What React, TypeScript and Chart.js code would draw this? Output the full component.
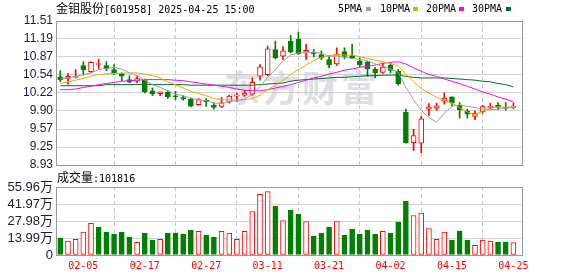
import React, { useEffect, useRef } from 'react';
import { Chart, registerables } from 'chart.js';

Chart.register(...registerables);

// ---------- data ----------
const dateTickIndex = [3, 11, 19, 27, 35, 43, 51, 59];
const dateLabels = ['02-05', '02-17', '02-27', '03-11', '03-21', '04-02', '04-15', '04-25'];

const priceTicks = [8.93, 9.2525, 9.575, 9.8975, 10.22, 10.5425, 10.865, 11.1875, 11.51];
const priceTickLabels = ['8.93', '9.25', '9.57', '9.90', '10.22', '10.54', '10.87', '11.19', '11.51'];

const volTicks = [0, 13.99, 27.98, 41.97, 55.96];
const volTickLabels = ['0', '13.99万', '27.98万', '41.97万', '55.96万'];

const opens = [10.51, 10.48, 10.5, 10.71, 10.6, 10.73, 10.71, 10.64, 10.57, 10.46,
  10.43, 10.45, 10.26, 10.21, 10.23, 10.17, 10.14, 10.11, 10.01, 10.09,
  10.0, 9.98, 10.06, 10.165, 10.18, 10.2, 10.52, 10.55, 11.0, 10.88,
  11.15, 11.18, 10.95, 10.95, 10.91, 10.82, 10.74, 10.96, 10.89, 10.79,
  10.77, 10.65, 10.59, 10.715, 10.61, 9.88, 9.33, 9.32, 9.93, 9.95,
  10.08, 10.15, 10.0, 9.895, 9.8, 9.88, 9.96, 10.0, 9.96, 9.96];
const highs = [10.62, 10.57, 10.64, 10.78, 10.78, 10.82, 10.78, 10.73, 10.58, 10.53,
  10.52, 10.47, 10.31, 10.24, 10.26, 10.25, 10.17, 10.13, 10.12, 10.12,
  10.05, 10.14, 10.18, 10.22, 10.27, 10.49, 10.73, 11.06, 11.15, 11.05,
  11.25, 11.31, 11.09, 11.0, 10.975, 10.88, 11.03, 11.03, 11.09, 10.85,
  10.79, 10.68, 10.76, 10.76, 10.64, 9.93, 9.57, 9.8, 10.03, 10.04,
  10.22, 10.15, 10.05, 9.93, 9.9, 10.0, 10.04, 10.05, 10.05, 10.04];
const lows = [10.42, 10.38, 10.49, 10.54, 10.58, 10.66, 10.62, 10.55, 10.44, 10.4,
  10.4, 10.22, 10.17, 10.17, 10.12, 10.1, 10.09, 9.97, 10.0, 9.98,
  9.93, 9.96, 10.04, 10.07, 10.16, 10.18, 10.45, 10.53, 10.83, 10.82,
  10.94, 10.91, 10.82, 10.865, 10.82, 10.67, 10.715, 10.83, 10.83, 10.69,
  10.52, 10.49, 10.57, 10.58, 10.36, 9.32, 9.19, 9.15, 9.82, 9.91,
  10.02, 9.99, 9.77, 9.77, 9.74, 9.86, 9.93, 9.92, 9.91, 9.94];
const closes = [10.46, 10.52, 10.51, 10.64, 10.77, 10.74, 10.655, 10.585, 10.52, 10.42,
  10.48, 10.24, 10.21, 10.24, 10.15, 10.15, 10.11, 9.985, 10.1, 10.06,
  9.96, 10.045, 10.165, 10.175, 10.22, 10.41, 10.69, 11.01, 10.85, 10.975,
  10.956, 10.926, 10.985, 10.925, 10.848, 10.728, 10.908, 10.877, 10.84, 10.728,
  10.65, 10.58, 10.686, 10.625, 10.386, 9.33, 9.457, 9.757, 9.973, 9.99,
  10.13, 10.04, 9.92, 9.84, 9.86, 9.978, 9.98, 9.966, 9.942, 9.98];

const ma5 = [10.47, 10.49, 10.52, 10.55, 10.58, 10.64, 10.66, 10.68, 10.65, 10.58,
  10.53, 10.45, 10.37, 10.32, 10.26, 10.2, 10.17, 10.13, 10.1, 10.08,
  10.04, 10.03, 10.07, 10.08, 10.11, 10.2, 10.33, 10.5, 10.64, 10.79,
  10.9, 10.94, 10.94, 10.95, 10.93, 10.88, 10.88, 10.86, 10.84, 10.82,
  10.8, 10.74, 10.7, 10.65, 10.59, 10.32, 10.1, 9.91, 9.78, 9.7,
  9.86, 9.98, 10.01, 9.98, 9.96, 9.93, 9.92, 9.93, 9.95, 9.97];
const ma10 = [10.39, 10.42, 10.45, 10.48, 10.52, 10.55, 10.565, 10.57, 10.575, 10.58,
  10.58, 10.56, 10.53, 10.49, 10.42, 10.37, 10.31, 10.25, 10.21, 10.17,
  10.12, 10.1, 10.1, 10.09, 10.1, 10.12, 10.18, 10.28, 10.36, 10.45,
  10.55, 10.64, 10.72, 10.8, 10.86, 10.89, 10.91, 10.9, 10.9, 10.87,
  10.84, 10.81, 10.78, 10.75, 10.7, 10.56, 10.42, 10.3, 10.22, 10.14,
  10.09, 10.04, 9.96, 9.88, 9.83, 9.9, 9.95, 9.97, 9.97, 9.96];
const ma20 = [10.28, 10.28, 10.29, 10.32, 10.34, 10.37, 10.39, 10.41, 10.43, 10.44,
  10.45, 10.46, 10.46, 10.46, 10.46, 10.45, 10.44, 10.42, 10.4, 10.38,
  10.36, 10.34, 10.32, 10.29, 10.27, 10.26, 10.26, 10.28, 10.31, 10.34,
  10.37, 10.41, 10.45, 10.49, 10.52, 10.56, 10.59, 10.63, 10.65, 10.68,
  10.7, 10.72, 10.75, 10.77, 10.78, 10.74, 10.67, 10.61, 10.55, 10.52,
  10.47, 10.43, 10.39, 10.34, 10.29, 10.24, 10.2, 10.15, 10.11, 10.06];
const ma30 = [10.35, 10.35, 10.35, 10.35, 10.35, 10.35, 10.37, 10.37, 10.37, 10.37,
  10.37, 10.38, 10.37, 10.37, 10.37, 10.37, 10.37, 10.36, 10.36, 10.36,
  10.36, 10.36, 10.36, 10.36, 10.36, 10.36, 10.37, 10.38, 10.39, 10.4,
  10.43, 10.45, 10.46, 10.47, 10.48, 10.49, 10.5, 10.5, 10.51, 10.52,
  10.53, 10.53, 10.54, 10.54, 10.54, 10.52, 10.5, 10.49, 10.49, 10.49,
  10.49, 10.48, 10.47, 10.46, 10.45, 10.43, 10.42, 10.39, 10.37, 10.33];

// volume in 万
const volumes = [13.9, 11.5, 12.9, 18.8, 26.0, 22.7, 18.8, 17.2, 18.8, 14.7,
  10.4, 18.0, 12.3, 12.9, 18.0, 18.0, 17.2, 20.5, 19.4, 16.1,
  14.7, 19.4, 18.0, 12.9, 19.4, 35.8, 50.0, 52.2, 40.1, 28.4,
  36.9, 33.6, 27.6, 15.6, 18.0, 22.9, 27.6, 16.1, 21.3, 17.2,
  20.5, 17.2, 19.4, 18.0, 27.0, 44.2, 32.5, 34.4, 21.8, 12.9,
  18.8, 12.3, 19.7, 12.3, 7.9, 12.3, 11.5, 10.6, 10.6, 10.1816];
const volUp = [0, 1, 1, 1, 1, 0, 0, 0, 0, 0,
  1, 0, 0, 1, 0, 0, 0, 0, 1, 0,
  0, 1, 1, 1, 1, 1, 1, 1, 0, 1,
  0, 0, 1, 0, 0, 0, 1, 0, 0, 0,
  0, 0, 1, 0, 0, 0, 1, 1, 1, 1,
  1, 0, 0, 0, 1, 1, 1, 0, 0, 1];

// ---------- styles ----------
const RED = '#ff0000';
const GREEN = '#008000';
const MA_COLORS = ['#a0a0a0', '#f5a300', '#ff00ff', '#006b2d'];
const X_MIN = -0.56;
const X_MAX = 60.12;
const MONO = '"DejaVu Sans Mono", monospace';
const CJK = '"Noto Sans CJK SC", sans-serif';

const boxPlugin = {
  id: 'box',
  afterDraw(chart: any) {
    const { ctx, chartArea: a } = chart;
    ctx.save();
    ctx.strokeStyle = '#999999';
    ctx.lineWidth = 1;
    ctx.strokeRect(Math.round(a.left) + 0.5, Math.round(a.top) + 0.5,
      Math.round(a.right - a.left), Math.round(a.bottom - a.top));
    ctx.restore();
  },
};

const watermarkPlugin = {
  id: 'watermark',
  beforeDatasetsDraw(chart: any) {
    const { ctx } = chart;
    ctx.save();
    ctx.fillStyle = 'rgba(200,200,212,0.6)';
    ctx.font = 'bold 36px "Noto Sans CJK SC"';
    ctx.textBaseline = 'middle';
    try { (ctx as any).letterSpacing = '3px'; } catch (e) { /* ignore */ }
    ctx.fillText('东方财富', 224, 88);
    ctx.restore();
  },
};

export default function App() {
  const mainRef = useRef<HTMLCanvasElement>(null);
  const volRef = useRef<HTMLCanvasElement>(null);

  useEffect(() => {
    Chart.defaults.font.family = '"Liberation Sans", "Noto Sans CJK SC", sans-serif';
    const idx = opens.map((_, i) => i);
    const up = idx.map((i) => closes[i] >= opens[i]);
    const cColor = up.map((u) => (u ? RED : GREEN));
    const cFill = up.map((u) => (u ? '#ffffff' : GREEN));

    const maSets = [ma5, ma10, ma20, ma30].map((arr, k) => ({
      type: 'line' as const,
      label: ['5PMA', '10PMA', '20PMA', '30PMA'][k],
      data: arr.map((v, i) => ({ x: i, y: v })),
      borderColor: MA_COLORS[k],
      borderWidth: 1,
      pointRadius: 0,
      tension: 0,
      order: k,
    }));

    const xGrid = {
      type: 'linear' as const,
      min: X_MIN,
      max: X_MAX,
      offset: false,
      afterBuildTicks: (s: any) => { s.ticks = dateTickIndex.map((v) => ({ value: v })); },
      grid: { color: '#c8c8c8', drawTicks: false, lineWidth: 1 },
      border: { display: false, dash: [4, 3] },
    };

    const main = new Chart(mainRef.current as HTMLCanvasElement, {
      type: 'bar',
      data: {
        datasets: [
          ...maSets,
          {
            type: 'bar',
            data: idx.map((i) => ({ x: i, y: [opens[i], closes[i]] })),
            backgroundColor: cFill,
            borderColor: cColor,
            borderWidth: 1,
            borderSkipped: false,
            barThickness: 5,
            minBarLength: 1,
            grouped: false,
            order: 10,
          } as any,
          {
            type: 'bar',
            data: idx.map((i) => ({ x: i, y: [lows[i], highs[i]] })),
            backgroundColor: cColor,
            borderWidth: 0,
            barThickness: 1,
            grouped: false,
            order: 11,
          } as any,
        ],
      },
      options: {
        animation: false,
        responsive: false,
        devicePixelRatio: 1,
        events: [],
        layout: { padding: { left: 0, right: 56, top: 21, bottom: 111 } },
        plugins: { legend: { display: false }, tooltip: { enabled: false } },
        scales: {
          x: {
            ...xGrid,
            ticks: { display: false },
            afterFit: (s: any) => { s.height = 0; },
          } as any,
          y: {
            type: 'linear',
            min: 8.93,
            max: 11.51,
            afterBuildTicks: (s: any) => { s.ticks = priceTicks.map((v) => ({ value: v })); },
            ticks: {
              callback: (_v: any, i: number) => priceTickLabels[i],
              color: '#1a1a3a',
              font: { family: '"Liberation Sans"', size: 12 },
              padding: 3,
              autoSkip: false,
            },
            grid: { color: '#d4d4d4', drawTicks: false },
            border: { display: false },
            afterFit: (s: any) => { s.width = 56; },
          } as any,
        },
      },
      plugins: [watermarkPlugin, boxPlugin],
    });

    const vol = new Chart(volRef.current as HTMLCanvasElement, {
      type: 'bar',
      data: {
        datasets: [
          {
            data: idx.map((i) => ({ x: i, y: volumes[i] })),
            backgroundColor: idx.map((i) => (volUp[i] ? '#ffffff' : GREEN)),
            borderColor: idx.map((i) => (volUp[i] ? RED : GREEN)),
            borderWidth: 1,
            borderSkipped: false,
            barThickness: 5,
            grouped: false,
          } as any,
        ],
      },
      options: {
        animation: false,
        responsive: false,
        devicePixelRatio: 1,
        events: [],
        layout: { padding: { left: 0, right: 56, top: 187, bottom: 0 } },
        plugins: { legend: { display: false }, tooltip: { enabled: false } },
        scales: {
          x: {
            ...xGrid,
            ticks: {
              callback: (_v: any, i: number) => dateLabels[i],
              color: RED,
              font: { family: MONO, size: 10 },
              padding: 5,
              maxRotation: 0,
              autoSkip: false,
            },
            afterFit: (s: any) => { s.height = 21; },
          } as any,
          y: {
            type: 'linear',
            min: 0,
            max: 55.96,
            afterBuildTicks: (s: any) => { s.ticks = volTicks.map((v) => ({ value: v })); },
            ticks: {
              callback: (_v: any, i: number) => volTickLabels[i],
              color: '#1a1a3a',
              font: { family: '"Liberation Sans", "Noto Sans CJK SC"', size: 13 },
              padding: 3,
              autoSkip: false,
            },
            grid: { color: '#d4d4d4', drawTicks: false },
            border: { display: false },
            afterFit: (s: any) => { s.width = 56; },
          } as any,
        },
      },
      plugins: [boxPlugin],
    });

    return () => {
      main.destroy();
      vol.destroy();
    };
  }, []);

  const legendItems = [
    { text: '5PMA', x: 338, sq: 366, c: MA_COLORS[0] },
    { text: '10PMA', x: 380, sq: 413, c: MA_COLORS[1] },
    { text: '20PMA', x: 426, sq: 459, c: MA_COLORS[2] },
    { text: '30PMA', x: 472, sq: 506, c: MA_COLORS[3] },
  ];

  return (
    <div style={{ position: 'absolute', left: 0, top: 0, width: 578, height: 276, background: '#fff', overflow: 'hidden' }}>
      <canvas ref={mainRef} width={578} height={276} style={{ position: 'absolute', left: 0, top: 0, width: 578, height: 276 }} />
      <canvas ref={volRef} width={578} height={276} style={{ position: 'absolute', left: 0, top: 0, width: 578, height: 276 }} />
      <div style={{ position: 'absolute', left: 56, top: 1, height: 14, lineHeight: '14px', whiteSpace: 'nowrap', color: '#000' }}>
        <span style={{ fontFamily: CJK, fontSize: 12 }}>金钼股份</span>
        <span style={{ fontFamily: MONO, fontSize: 10 }}>[601958] 2025-04-25 15:00</span>
      </div>
      {legendItems.map((it) => (
        <React.Fragment key={it.text}>
          <div style={{ position: 'absolute', left: it.x, top: 2, lineHeight: '14px', fontFamily: MONO, fontSize: 10, color: '#000', whiteSpace: 'nowrap' }}>{it.text}</div>
          <div style={{ position: 'absolute', left: it.sq, top: 7, width: 5, height: 4, background: it.c }} />
        </React.Fragment>
      ))}
      <div style={{ position: 'absolute', left: 57, top: 170, height: 14, lineHeight: '14px', whiteSpace: 'nowrap', color: '#000' }}>
        <span style={{ fontFamily: CJK, fontSize: 12 }}>成交量</span>
        <span style={{ fontFamily: MONO, fontSize: 10 }}>:101816</span>
      </div>
    </div>
  );
}
